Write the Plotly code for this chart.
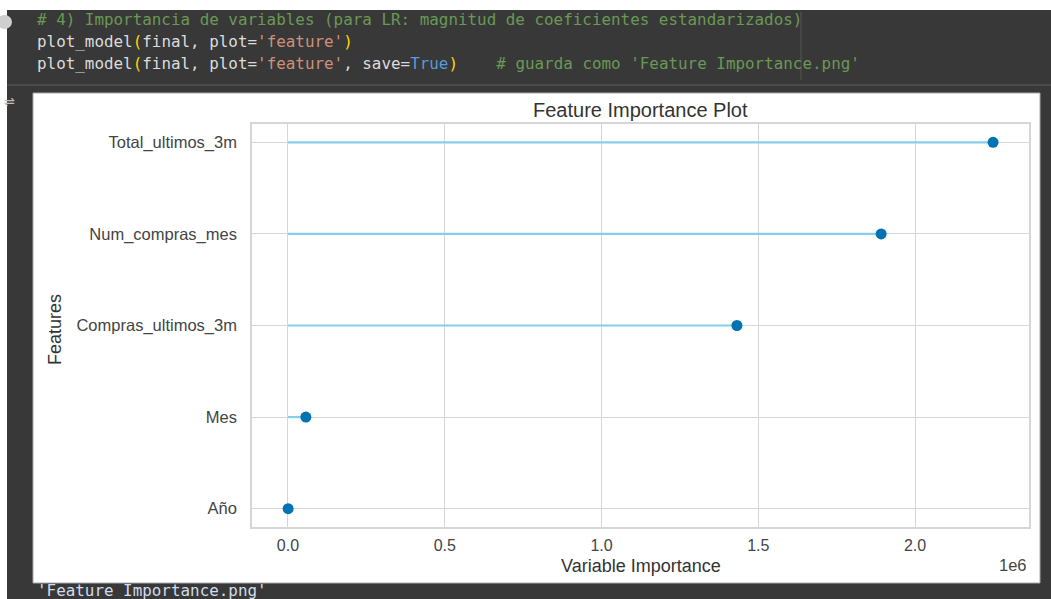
import plotly.graph_objects as go

# Feature importance values (standardized LR coefficient magnitudes)
features = ["Año", "Mes", "Compras_ultimos_3m", "Num_compras_mes", "Total_ultimos_3m"]
importance = [0.0005e6, 0.057e6, 1.432e6, 1.892e6, 2.249e6]

x_tick_vals = [0.0, 0.5e6, 1.0e6, 1.5e6, 2.0e6]
x_tick_text = ["0.0", "0.5", "1.0", "1.5", "2.0"]

W, H = 1051, 599
BG = "#383838"
GRID = "#d6d6d6"


def px(x):
    return x / W


def py(y):
    return 1 - y / H


fig = go.Figure()

# stems from zero to each value
stem_x, stem_y = [], []
for f, v in zip(features, importance):
    stem_x += [0, v, None]
    stem_y += [f, f, None]
fig.add_trace(go.Scatter(
    x=stem_x, y=stem_y, mode="lines",
    line=dict(color="#87ceeb", width=2.2),
    hoverinfo="skip", showlegend=False,
))
fig.add_trace(go.Scatter(
    x=importance, y=features, mode="markers",
    marker=dict(color="#0173b2", size=11),
    showlegend=False,
))

# notebook cell code
mono = "DejaVu Sans Mono"
C_ID = "#dcdcdc"
C_PAR = "#ffd700"
C_STR = "#ce9178"
C_KW = "#569cd6"
C_COM = "#6a9955"
NB = "\u00a0"


def sp(text, color):
    return f'<span style="color:{color}">{text.replace(" ", NB)}</span>'


code_lines = [
    sp("# 4) Importancia de variables (para LR: magnitud de coeficientes estandarizados)", C_COM),
    sp("plot_model", C_ID) + sp("(", C_PAR) + sp("final, plot=", C_ID) + sp("'feature'", C_STR) + sp(")", C_PAR),
    sp("plot_model", C_ID) + sp("(", C_PAR) + sp("final, plot=", C_ID) + sp("'feature'", C_STR)
    + sp(", save=", C_ID) + sp("True", C_KW) + sp(")", C_PAR)
    + sp("    # guarda como 'Feature Importance.png'", C_COM),
]
code_y = [20, 42, 63]

annotations = []
for txt, yy in zip(code_lines, code_y):
    annotations.append(dict(
        x=px(35), y=py(yy), xref="paper", yref="paper", xanchor="left", yanchor="middle",
        text=txt, showarrow=False, font=dict(family=mono, size=15.9, color=C_ID),
    ))

# cell output text
annotations.append(dict(
    x=px(35), y=py(590), xref="paper", yref="paper", xanchor="left", yanchor="middle",
    text=("'Feature Importance.png'").replace(" ", NB), showarrow=False,
    font=dict(family=mono, size=15.9, color="#cfdcec"),
))

sans = "Liberation Sans"
annotations += [
    dict(x=px(640.5), y=py(110), xref="paper", yref="paper", xanchor="center", yanchor="middle",
         text="Feature Importance Plot", showarrow=False,
         font=dict(family=sans, size=20, color="#333333")),
    dict(x=px(640.5), y=py(566), xref="paper", yref="paper", xanchor="center", yanchor="middle",
         text="Variable Importance", showarrow=False,
         font=dict(family=sans, size=18, color="#333333")),
    dict(x=px(1029), y=py(565), xref="paper", yref="paper", xanchor="right", yanchor="middle",
         text="1e6", showarrow=False,
         font=dict(family=sans, size=16.5, color="#444444")),
    dict(x=px(55), y=py(330), xref="paper", yref="paper", xanchor="center", yanchor="middle",
         text="Features", textangle=-90, showarrow=False,
         font=dict(family=sans, size=18, color="#333333")),
    dict(x=px(9), y=py(102), xref="paper", yref="paper", xanchor="center", yanchor="middle",
         text="\u21cc", showarrow=False, font=dict(family="DejaVu Sans", size=13, color="#bdbdbd")),
]

shapes = [
    # page strips
    dict(type="rect", xref="paper", yref="paper", x0=0, x1=1, y0=py(10), y1=1,
         fillcolor="white", line_width=0, layer="below"),
    dict(type="rect", xref="paper", yref="paper", x0=0, x1=px(7), y0=0, y1=1,
         fillcolor="white", line_width=0, layer="below"),
    # run button
    dict(type="circle", xref="paper", yref="paper", x0=px(-3), x1=px(12), y0=py(29), y1=py(15),
         fillcolor="#cfcfcf", line_width=0, layer="below"),
    # editor cursor guide and cell separator
    dict(type="line", xref="paper", yref="paper", x0=px(801), x1=px(801), y0=py(80), y1=py(12),
         line=dict(color="#555555", width=1), layer="below"),
    dict(type="line", xref="paper", yref="paper", x0=px(7), x1=1, y0=py(85), y1=py(85),
         line=dict(color="#4a4a4a", width=2), layer="below"),
    # output image frame
    dict(type="rect", xref="paper", yref="paper", x0=px(33), x1=px(1040), y0=py(583), y1=py(93),
         fillcolor="white", line=dict(color="#a8a8a8", width=1), layer="below"),
]

fig.update_layout(
    width=W, height=H,
    margin=dict(l=0, r=0, t=0, b=0),
    paper_bgcolor=BG, plot_bgcolor="white",
    annotations=annotations, shapes=shapes,
    xaxis=dict(
        domain=[px(252), px(1029)],
        range=[-0.1148e6, 2.3636e6],
        tickvals=x_tick_vals, ticktext=x_tick_text,
        showgrid=True, gridcolor=GRID, gridwidth=1.3,
        zeroline=False,
        showline=True, mirror=True, linecolor=GRID, linewidth=1.5,
        ticks="outside", ticklen=3, tickcolor="rgba(0,0,0,0)",
        tickfont=dict(family=sans, size=16, color="#444444"),
    ),
    yaxis=dict(
        domain=[py(527), py(124)],
        type="category", categoryorder="array", categoryarray=features,
        range=[-0.2, 4.2],
        showgrid=True, gridcolor=GRID, gridwidth=1.3,
        zeroline=False,
        showline=True, mirror=True, linecolor=GRID, linewidth=1.5,
        ticks="outside", ticklen=10, tickcolor="rgba(0,0,0,0)",
        tickfont=dict(family=sans, size=16.5, color="#444444"),
    ),
)

fig.write_html("out.html")
